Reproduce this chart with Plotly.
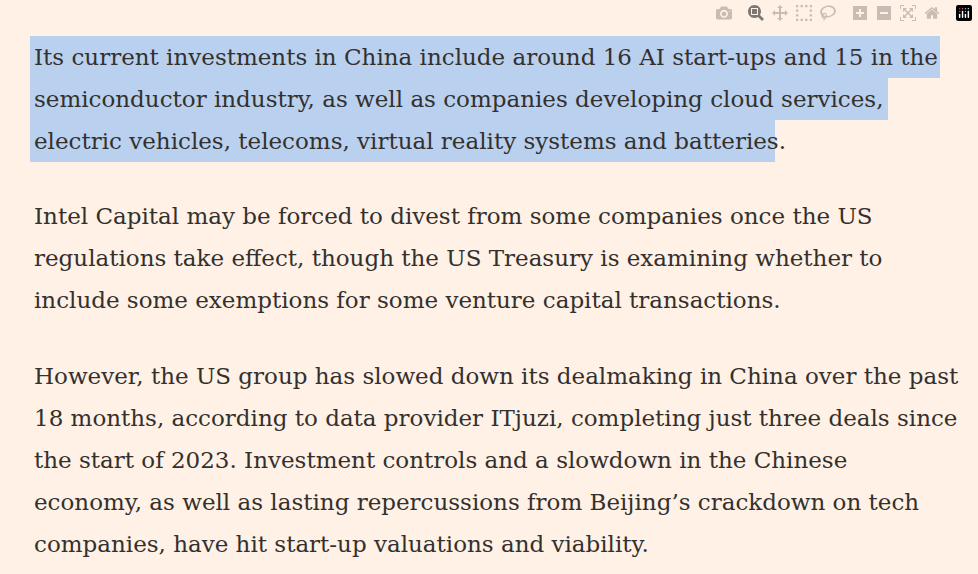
import plotly.graph_objects as go

# text content
lines = [
    "Its current investments in China include around 16 AI start-ups and 15 in the",
    "semiconductor industry, as well as companies developing cloud services,",
    "electric vehicles, telecoms, virtual reality systems and batteries.",
    "Intel Capital may be forced to divest from some companies once the US",
    "regulations take effect, though the US Treasury is examining whether to",
    "include some exemptions for some venture capital transactions.",
    "However, the US group has slowed down its dealmaking in China over the past",
    "18 months, according to data provider ITjuzi, completing just three deals since",
    "the start of 2023. Investment controls and a slowdown in the Chinese",
    "economy, as well as lasting repercussions from Beijing\u2019s crackdown on tech",
    "companies, have hit start-up valuations and viability.",
]
line_y = [57, 99, 141, 216, 258, 300, 376, 418, 460, 502, 544]
highlight_right = [940, 888, 775]  # highlighted lines of first paragraph

fig = go.Figure()
fig.add_trace(go.Scatter(x=[0], y=[0], mode="markers", marker=dict(opacity=0), hoverinfo="skip"))

for i, right in enumerate(highlight_right):
    fig.add_shape(type="rect", x0=30, x1=right, y0=line_y[i] - 21, y1=line_y[i] + 21,
                  fillcolor="#bad0ef", line=dict(width=0), layer="below")

for txt, y in zip(lines, line_y):
    fig.add_annotation(x=32, y=y, text=txt, showarrow=False, xanchor="left", yanchor="middle",
                       font=dict(family="DejaVu Serif", size=23, color="#33302e"))

fig.update_layout(
    width=978, height=574, margin=dict(l=0, r=0, t=0, b=0),
    paper_bgcolor="#fff1e5", plot_bgcolor="#fff1e5", showlegend=False,
    xaxis=dict(range=[0, 978], visible=False),
    yaxis=dict(range=[574, 0], visible=False),
)
fig.write_html("out.html", post_script="document.body.style.margin='0';document.body.style.background='#fff1e5';document.body.style.overflow='hidden';")
